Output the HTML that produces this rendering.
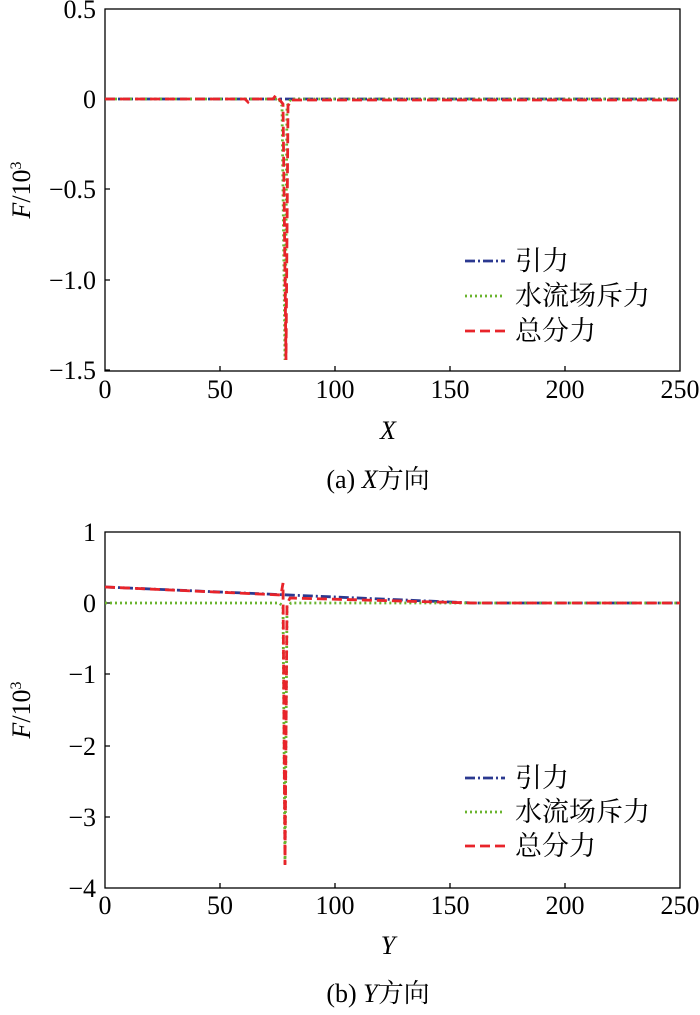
<!DOCTYPE html><html><head><meta charset="utf-8"><style>
body{margin:0;background:#fff;width:700px;height:1010px;overflow:hidden}
text{font-family:"Liberation Serif","Noto Serif CJK SC",serif;font-size:26px;fill:#000}
.l{font-family:"Liberation Serif","Noto Serif CJK SC",serif;font-size:27px}
</style></head><body>
<svg width="700" height="1010" xmlns="http://www.w3.org/2000/svg">
<g fill="none" stroke="#000" stroke-width="1.3">
<rect x="105" y="9" width="575" height="362"/>
<rect x="105" y="532" width="575" height="356"/>
<path d="M105 99h5M105 189h5M105 280h5M105 370h5M220 371v-5M335 371v-5M450 371v-5M565 371v-5
M105 603h5M105 674h5M105 746h5M105 817h5M220 888v-5M335 888v-5M450 888v-5M565 888v-5"/>
</g>
<g text-anchor="end">
<text x="96" y="18">0.5</text><text x="96" y="108">0</text><text x="96" y="198">−0.5</text><text x="96" y="289">−1.0</text><text x="96" y="379">−1.5</text>
<text x="96" y="541">1</text><text x="96" y="612">0</text><text x="96" y="683">−1</text><text x="96" y="755">−2</text><text x="96" y="826">−3</text><text x="96" y="897">−4</text>
</g>
<g text-anchor="middle">
<text x="105" y="398">0</text><text x="220" y="398">50</text><text x="335" y="398">100</text><text x="450" y="398">150</text><text x="565" y="398">200</text><text x="680" y="398">250</text>
<text x="105" y="914">0</text><text x="220" y="914">50</text><text x="335" y="914">100</text><text x="450" y="914">150</text><text x="565" y="914">200</text><text x="680" y="914">250</text>
<text x="388" y="439" font-style="italic">X</text>
<text x="388" y="954" font-style="italic">Y</text>
<text x="378" y="488">(a) <tspan font-style="italic">X</tspan>方向</text>
<text x="378" y="1002">(b) <tspan font-style="italic">Y</tspan>方向</text>
</g>
<text transform="translate(30,190) rotate(-90)" text-anchor="middle"><tspan font-style="italic">F</tspan>/10<tspan font-size="16" dy="-9">3</tspan></text>
<text transform="translate(30,710) rotate(-90)" text-anchor="middle"><tspan font-style="italic">F</tspan>/10<tspan font-size="16" dy="-9">3</tspan></text>
<g fill="none" stroke-width="2.8">
<path d="M105 99H680" stroke="#2b3990" stroke-dasharray="10 3 2 3"/>
<path d="M105 99H279L282 106L285 360L287 106L291 99H680" stroke="#6ab42d" stroke-dasharray="2 3"/>
<path d="M105 99H245L248 102L250 99H273L276 95L279 99L283 104L286 360L288 106L291 100H680" stroke="#e8242a" stroke-dasharray="10 5"/>
<path d="M105 587L473 603H680" stroke="#2b3990" stroke-dasharray="10 3 2 3"/>
<path d="M105 603H279L283 606L285 865L287 607L291 603H680" stroke="#6ab42d" stroke-dasharray="2 3"/>
<path d="M105 587L281 595L283 583L285 865L287 604L290 598L473 603H680" stroke="#e8242a" stroke-dasharray="10 5"/>
</g>
<g stroke-width="2.8">
<line x1="465" y1="261" x2="505" y2="261" stroke="#2b3990" stroke-dasharray="10 3 2 3"/>
<line x1="465" y1="296" x2="505" y2="296" stroke="#6ab42d" stroke-dasharray="2 3"/>
<line x1="465" y1="331" x2="505" y2="331" stroke="#e8242a" stroke-dasharray="10 5"/>
<line x1="465" y1="778" x2="505" y2="778" stroke="#2b3990" stroke-dasharray="10 3 2 3"/>
<line x1="465" y1="812" x2="505" y2="812" stroke="#6ab42d" stroke-dasharray="2 3"/>
<line x1="465" y1="846" x2="505" y2="846" stroke="#e8242a" stroke-dasharray="10 5"/>
</g>
<text class="l" x="515" y="270">引力</text><text class="l" x="515" y="305">水流场斥力</text><text class="l" x="515" y="340">总分力</text>
<text class="l" x="515" y="787">引力</text><text class="l" x="515" y="821">水流场斥力</text><text class="l" x="515" y="855">总分力</text>
</svg></body></html>
